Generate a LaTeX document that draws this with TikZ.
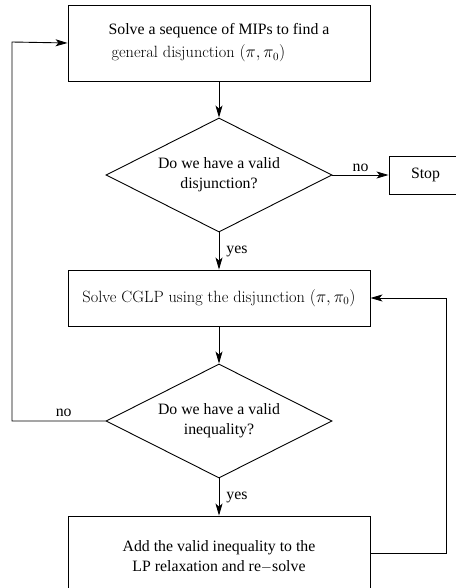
\documentclass[tikz,border=0pt]{standalone}
\usepackage{fontspec}
\newfontfamily\tms{Liberation Serif}
\usetikzlibrary{shapes.geometric,arrows.meta}
\begin{document}
\begin{tikzpicture}[x=1pt,y=-1pt,
  every node/.style={font=\fontsize{16.3}{20}\selectfont},
  box/.style={draw,line width=0.9pt,inner sep=0pt,minimum width=302pt},
  dia/.style={draw,diamond,line width=0.9pt,minimum width=226pt,minimum height=114pt,inner sep=0pt,aspect=2,font=\tms\fontsize{15.8}{20}\selectfont,align=center},
  conn/.style={line width=0.9pt,-{Stealth[length=12pt,width=7pt,inset=3pt]}},
  wire/.style={line width=0.9pt},
  lbl/.style={font=\tms\fontsize{15.8}{20}\selectfont,inner sep=0pt}]
\useasboundingbox (0,0) rectangle (455,588);
\node[box,minimum height=76pt,align=left] (b1) at (219,43)
  {{\tms\fontsize{15.8}{20}\selectfont Solve a sequence of MIPs to find a}\\[3pt]\hspace{3pt}general disjunction $(\pi,\pi_0)$};
\node[dia] (d1) at (219,175) {Do we have a valid\\disjunction?};
\node[box,minimum width=73pt,minimum height=38pt,font=\tms\fontsize{15.8}{20}\selectfont] (stop) at (425.5,175) {Stop};
\node[box,minimum height=56pt] (b2) at (219,298) {Solve CGLP using the disjunction $(\pi,\pi_0)$};
\node[dia] (d2) at (219,421) {Do we have a valid\\inequality?};
\node[box,minimum height=82pt,align=center,font=\tms\fontsize{15.8}{20}\selectfont] (b3) at (219,557)
  {Add the valid inequality to the\\LP relaxation and re\(-\)solve};
\coordinate (lc) at (12,42);
\coordinate (rc) at (446,553);
\draw[conn] (b1) -- (d1);
\draw[conn] (d1.east) -- node[lbl,above=3pt]{no} (stop.west);
\draw[conn] (d1.south) -- node[lbl,right=7pt]{yes} (b2.north);
\draw[conn] (b2) -- (d2);
\draw[conn] (d2.south) -- node[lbl,right=7pt]{yes} (b3.north);
\draw[conn] (d2.west) -- node[lbl,above=4pt,pos=0.447]{no} (lc |- d2.west) -- (lc) -- (b1.west);
\draw[conn] (b3.east |- rc) -- (rc) -- (rc |- b2.east) -- (b2.east);
\end{tikzpicture}
\end{document}
